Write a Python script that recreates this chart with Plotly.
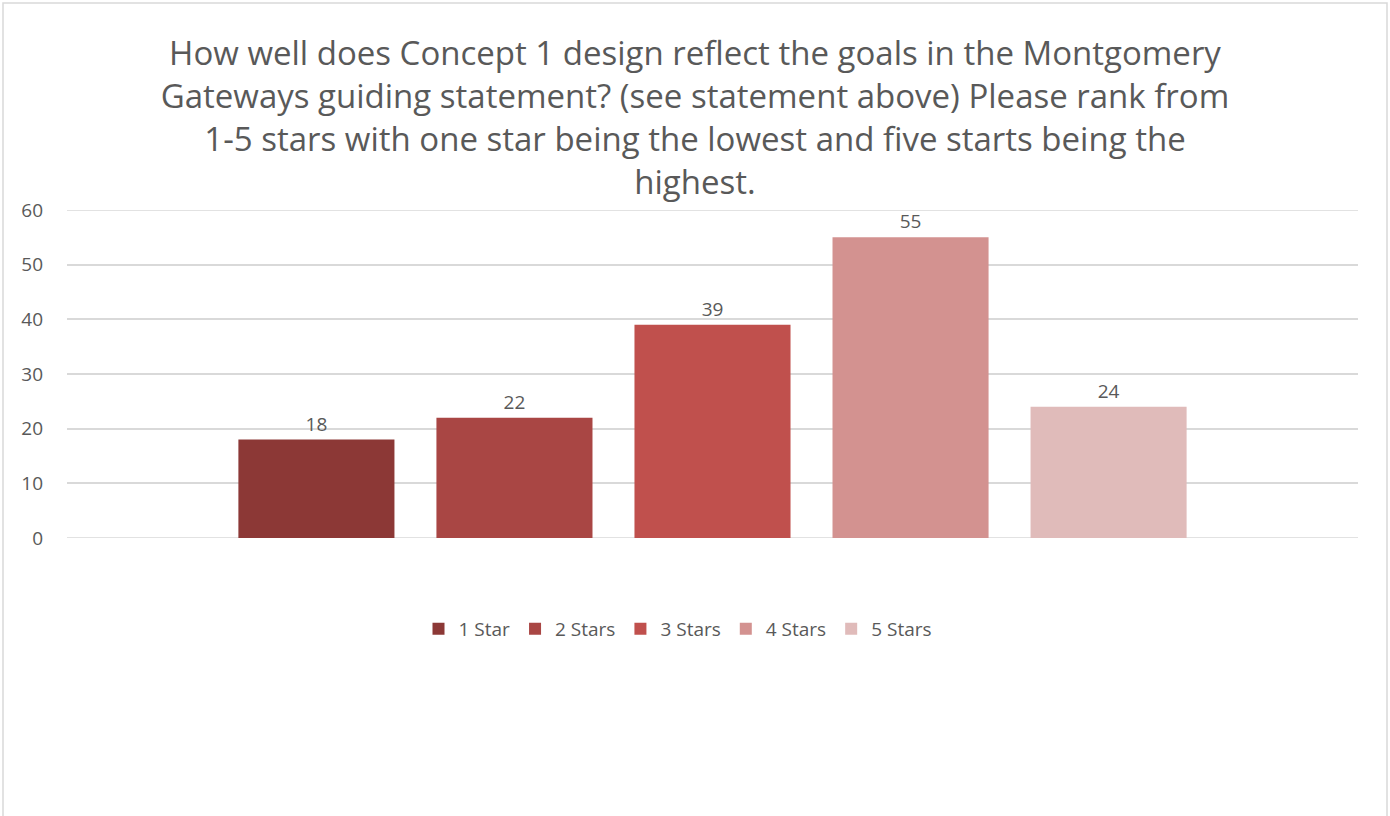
import plotly.graph_objects as go

categories = ["1 Star", "2 Stars", "3 Stars", "4 Stars", "5 Stars"]
values = [18, 22, 39, 55, 24]
colors = ["#8C3836", "#A94644", "#C0504D", "#D39290", "#E0BBBA"]
y_ticks = [0, 10, 20, 30, 40, 50, 60]

title_text = ("How well does Concept 1 design reflect the goals in the Montgomery<br>"
              "Gateways guiding statement? (see statement above) Please rank from<br>"
              "1-5 stars with one star being the lowest and five starts being the<br>"
              "highest.")

FONT = "Open Sans"
GRAY = "#595959"
GRID = "#D9D9D9"

fig = go.Figure()
for name, v, c in zip(categories, values, colors):
    fig.add_trace(go.Bar(
        x=[""], y=[v], name=name, marker_color=c, marker_line_width=0,
        text=[str(v)], textposition="outside", cliponaxis=False,
        textfont=dict(family=FONT, size=19, color=GRAY),
    ))

L, R, T, B = 67, 32, 210, 278
W, H = 1390, 816
pw, ph = W - L - R, H - T - B

def px2x(px):
    return (px - L) / pw

def py2y(py):
    return (H - B - py) / ph

fig.update_layout(
    width=W, height=H,
    margin=dict(l=L, r=R, t=T, b=B, pad=0),
    paper_bgcolor="white", plot_bgcolor="white",
    barmode="group", bargap=0.233, bargroupgap=0.212,
    title=dict(text=title_text, x=0.5, xref="container", xanchor="center",
               y=1 - 65 / H, yanchor="top", yref="container",
               font=dict(family=FONT, size=33, color=GRAY)),
    font=dict(family=FONT, color=GRAY),
    showlegend=True,
    legend=dict(orientation="h", x=px2x(695 - 17), xanchor="center", xref="paper",
                y=py2y(629), yanchor="middle",
                font=dict(family=FONT, size=19, color=GRAY),
                itemwidth=30, traceorder="normal"),
    xaxis=dict(showticklabels=False, showgrid=False, zeroline=False, showline=False),
    yaxis=dict(range=[0, 60], tickvals=y_ticks, showgrid=True, gridcolor=GRID,
               gridwidth=1.5, zeroline=False, showline=False, ticks="",
               ticklabelstandoff=23,
               tickfont=dict(family=FONT, size=19, color=GRAY)),
    shapes=[dict(type="rect", xref="paper", yref="paper",
                 x0=px2x(3), x1=px2x(1387), y0=py2y(830), y1=py2y(3),
                 line=dict(color=GRID, width=1.5), fillcolor="rgba(0,0,0,0)",
                 layer="below"),
            dict(type="line", xref="paper", yref="y", x0=0, x1=1, y0=0, y1=0,
                 line=dict(color=GRID, width=1.5), layer="below"),
            dict(type="line", xref="paper", yref="y", x0=0, x1=1, y0=60, y1=60,
                 line=dict(color=GRID, width=1.5), layer="below")],
)

fig.write_html("out.html", config={"displayModeBar": False},
               post_script="document.body.style.margin='0';document.body.style.overflow='hidden';")
